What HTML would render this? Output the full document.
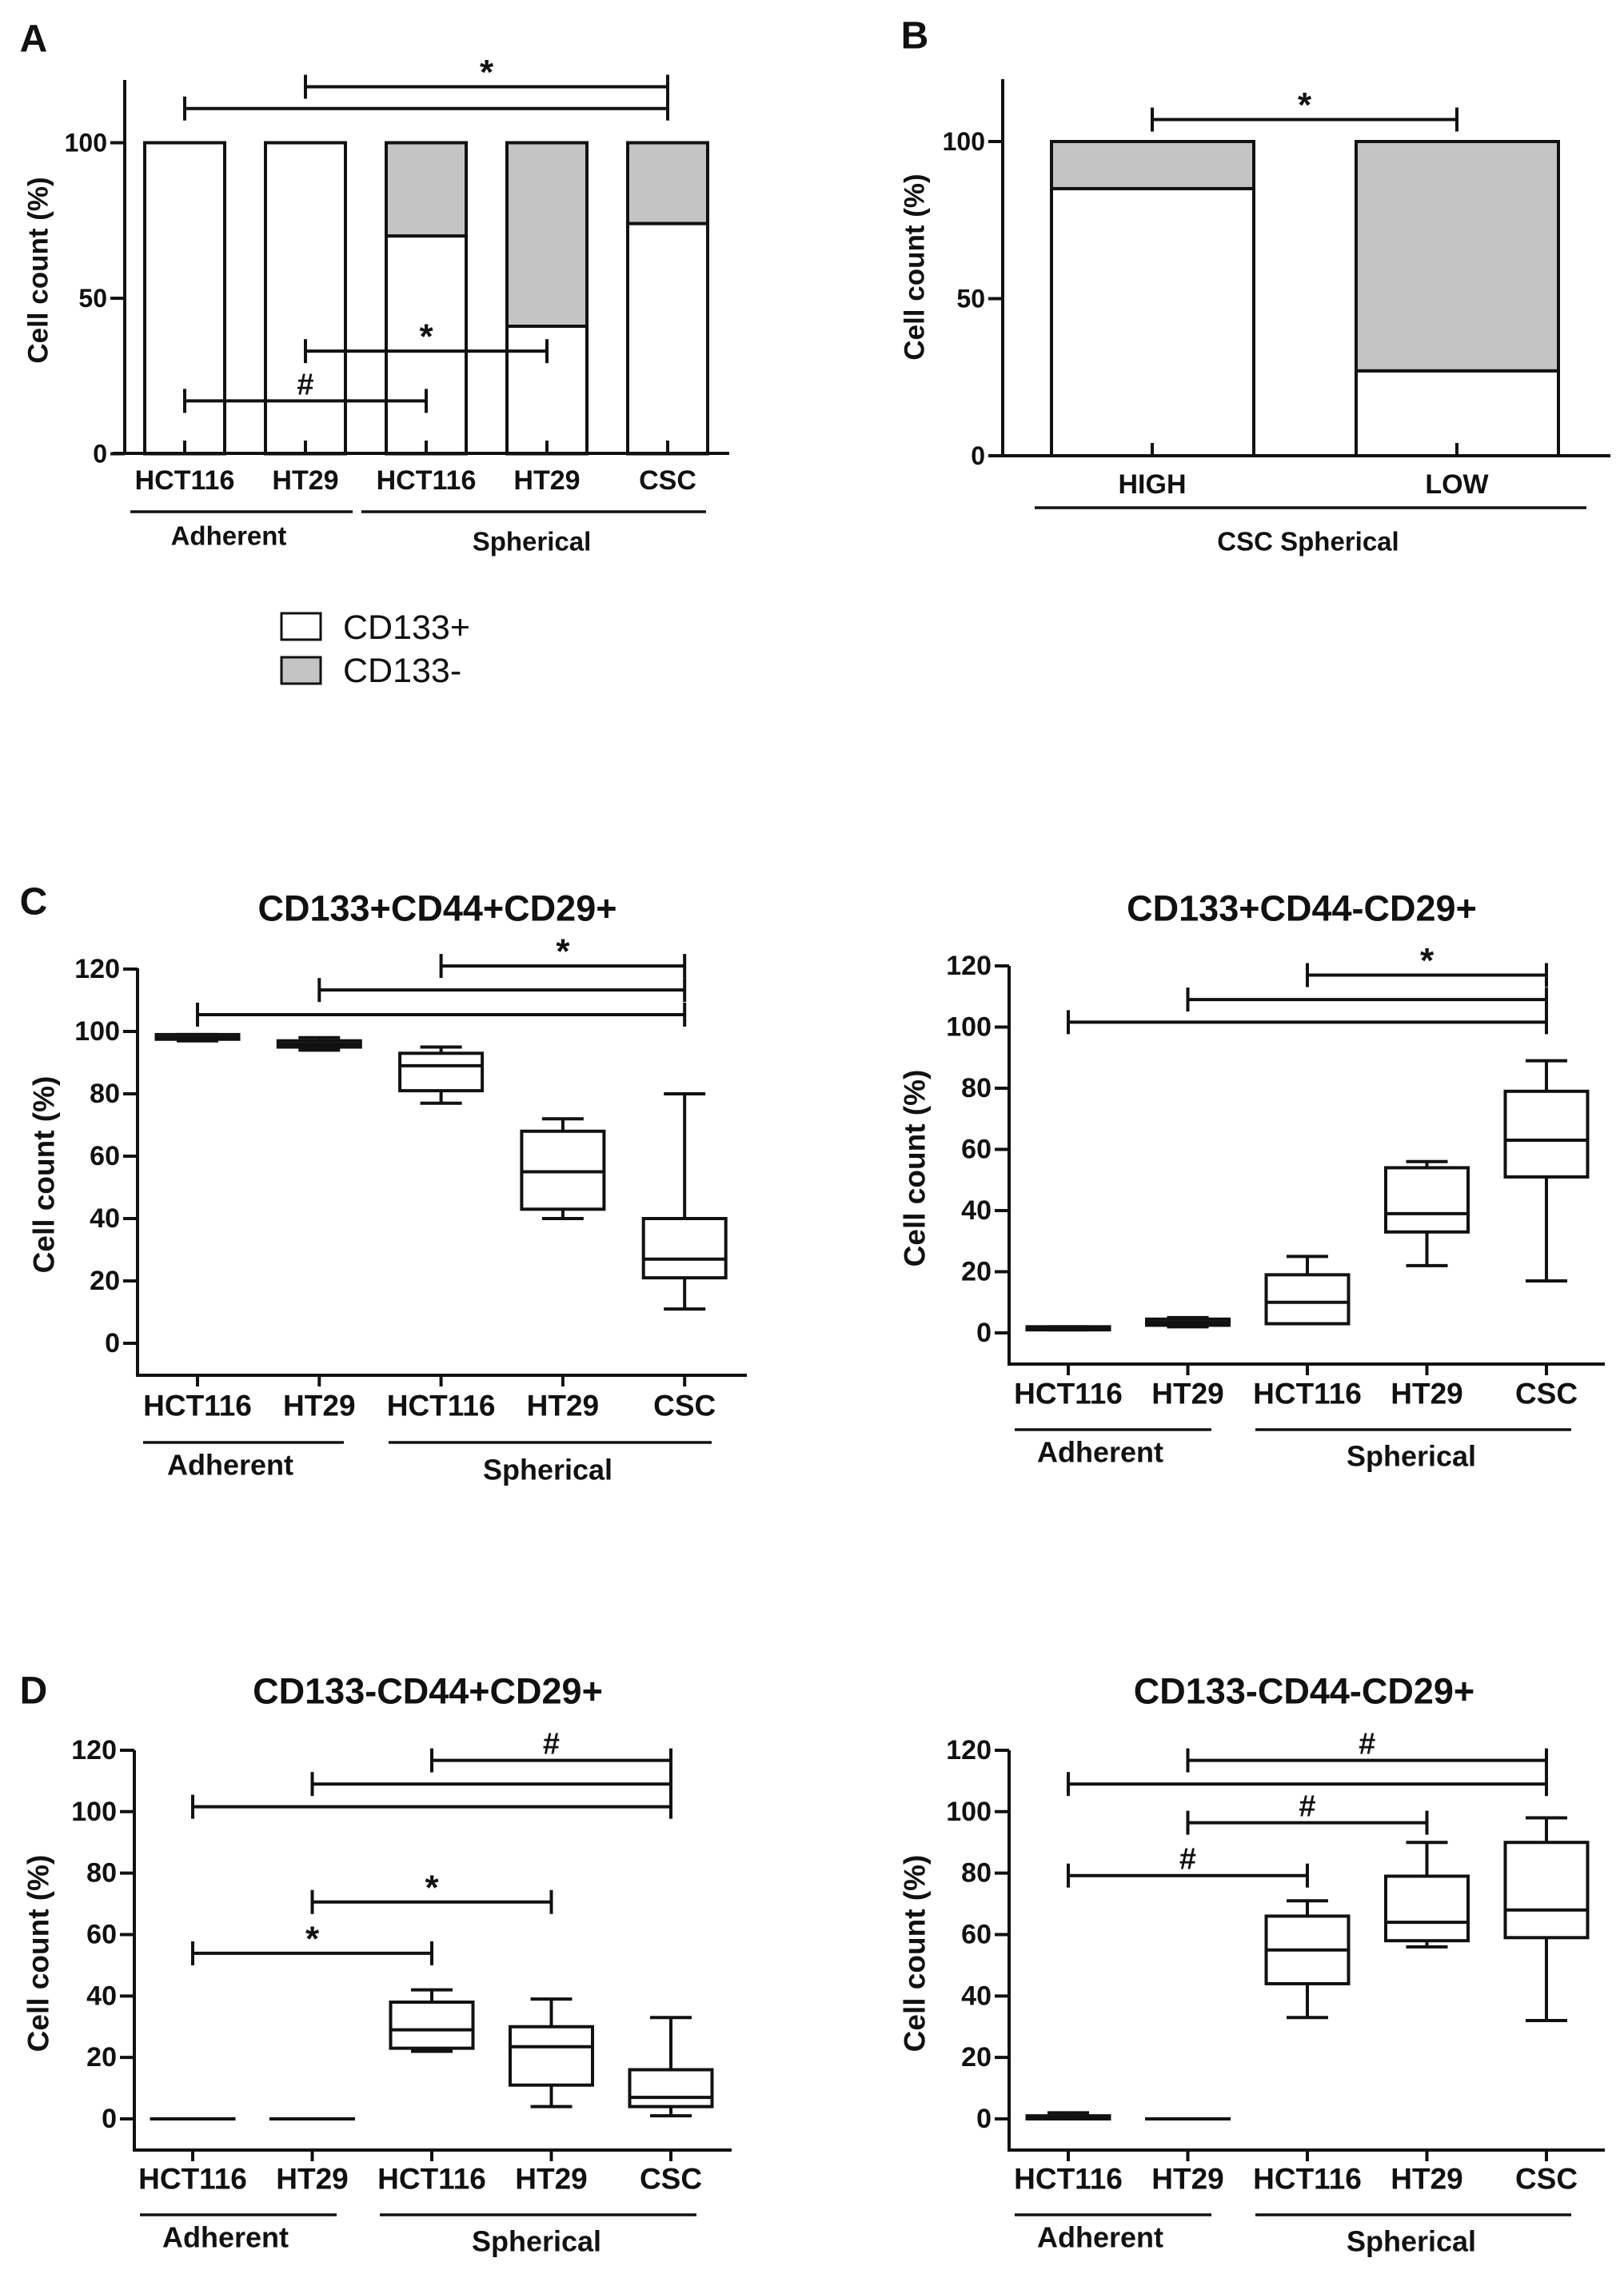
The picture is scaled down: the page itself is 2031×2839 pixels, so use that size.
<!DOCTYPE html>
<html><head><meta charset="utf-8">
<style>
html,body{margin:0;padding:0;background:#fff;}
svg{display:block;}
text{font-family:"Liberation Sans",Arial,sans-serif;font-weight:bold;fill:#111;}
</style></head>
<body>
<svg id="fig" width="2031" height="2839" viewBox="0 0 2031 2839" xmlns="http://www.w3.org/2000/svg"></svg>
<script>
// ---------- DATA ----------
const categories = ["HCT116","HT29","HCT116","HT29","CSC"];
const groupLabels = ["Adherent","Spherical"];
// Panel A: CD133+ share (rest CD133-)
const aPositive = [100,100,70,41,74];
const aYTicks = [0,50,100];
// Panel B
const bCategories = ["HIGH","LOW"];
const bPositive = [85,27];
const bYTicks = [0,50,100];
// Box tick labels
const boxYTicks = [0,20,40,60,80,100,120];
// C1: CD133+CD44+CD29+
const c1Min = [97,94,77,40,11];
const c1Q1  = [97.5,95,81,43,21];
const c1Med = [98,96,89,55,27];
const c1Q3  = [99,97,93,68,40];
const c1Max = [99,98,95,72,80];
// C2: CD133+CD44-CD29+
const c2Min = [1,2,3,22,17];
const c2Q1  = [1,2.5,3,33,51];
const c2Med = [1.5,3.5,10,39,63];
const c2Q3  = [2,4.5,19,54,79];
const c2Max = [2,5,25,56,89];
// D1: CD133-CD44+CD29+
const d1Min = [0,0,22,4,1];
const d1Q1  = [0,0,23,11,4];
const d1Med = [0,0,29,23.5,7];
const d1Q3  = [0,0,38,30,16];
const d1Max = [0,0,42,39,33];
// D2: CD133-CD44-CD29+
const d2Min = [0,0,33,56,32];
const d2Q1  = [0,0,44,58,59];
const d2Med = [0.5,0,55,64,68];
const d2Q3  = [1,0,66,79,90];
const d2Max = [2,0,71,90,98];
// significance brackets: from index, to index, height value, symbol
const aSigFrom = [1,0,1,0]; const aSigTo = [4,4,3,2]; const aSigY = [118,111,33,17]; const aSigLbl = ["*","","*","#"];
const bSigFrom = [0]; const bSigTo = [1]; const bSigY = [107]; const bSigLbl = ["*"];
const c1SigFrom = [2,1,0]; const c1SigTo = [4,4,4]; const c1SigY = [121,113.3,105.4]; const c1SigLbl = ["*","",""];
const c2SigFrom = [2,1,0]; const c2SigTo = [4,4,4]; const c2SigY = [117,109,101.6]; const c2SigLbl = ["*","",""];
const d1SigFrom = [2,1,0,1,0]; const d1SigTo = [4,4,4,3,2]; const d1SigY = [116.7,109,101.6,70.6,53.9]; const d1SigLbl = ["#","","","*","*"];
const d2SigFrom = [1,0,1,0]; const d2SigTo = [4,4,3,2]; const d2SigY = [116.7,109,96.4,79.2]; const d2SigLbl = ["#","","#","#"];

// ---------- DRAW HELPERS ----------
const NS = "http://www.w3.org/2000/svg";
const svg = document.getElementById('fig');
function mk(tag, attrs, name, parent){
  const el = document.createElementNS(NS, tag);
  for (const k in attrs) el.setAttribute(k, attrs[k]);
  
  
  (parent||svg).appendChild(el);
  return el;
}
function ln(x1,y1,x2,y2,name,w,p){ return mk('line',{x1:x1,y1:y1,x2:x2,y2:y2,stroke:'#111','stroke-width':w||4,'stroke-linecap':'butt'},name,p); }
function tx(x,y,s,size,name,anchor,p,weight){ const t=mk('text',{x:x,y:y,'font-size':size,'text-anchor':anchor||'middle','dominant-baseline':'central'},name,p); if(weight) t.style.fontWeight=weight; t.textContent=s; return t; }
function grp(name){ return mk('g',{},name); }

function axesCommon(g, o){
  ln(o.ax, o.axTop, o.ax, o.axBottom+2, 'y-axis-line', 4, g);
  ln(o.axLeft, o.axBottom, o.axRight, o.axBottom, 'x-axis-line', 4, g);
  o.yTicks.forEach(v=>{
    const y=o.y(v);
    ln(o.ax-18, y, o.ax, y, 'y-tick', 4, g);
    tx(o.ax-22, y, String(v), o.tickFont, 'y-tick-label', 'end', g);
  });
  o.cats.forEach((c,i)=>{
    const x=o.x(i);
    if(o.tickUp) ln(x, o.axBottom-16, x, o.axBottom, 'x-tick', 4, g);
    else ln(x, o.axBottom, x, o.axBottom+14, 'x-tick', 4, g);
    tx(x, o.catY, c, o.catFont, 'x-category-label', 'middle', g);
  });
  const yt = tx(0,0,'Cell count (%)', o.titleFont, 'y-axis-title','middle',g);
  yt.setAttribute('transform','translate('+o.ytX+','+o.ytY+') rotate(-90)');
}
function groups(g, o, lines){
  lines.forEach(L=>{
    ln(L[0], L[1], L[2], L[1], 'group-underline', 3.5, g);
    tx(L[3], L[4], L[5], o.grpFont, 'group-label', 'middle', g);
  });
}
function brackets(g, o, from, to, ys, lbls, half){
  for(let i=0;i<from.length;i++){
    const y=o.y(ys[i]), x1=o.x(from[i]), x2=o.x(to[i]);
    ln(x1,y,x2,y,'significance-bracket',4,g);
    ln(x1,y-half,x1,y+half,'bracket-end',4,g);
    ln(x2,y-half,x2,y+half,'bracket-end',4,g);
    if(lbls[i]){ tx((x1+x2)/2, y-(lbls[i]==='*'?18:20), lbls[i], lbls[i]==='*'?44:38, 'significance-marker','middle',g); }
  }
}
function boxes(g, o, mn, q1, md, q3, mx){
  const bw=103, cw=52;
  for(let i=0;i<mn.length;i++){
    const x=o.x(i);
    ln(x, o.y(mx[i]), x, o.y(q3[i]), 'whisker-upper', 4, g);
    ln(x, o.y(q1[i]), x, o.y(mn[i]), 'whisker-lower', 4, g);
    ln(x-cw/2, o.y(mx[i]), x+cw/2, o.y(mx[i]), 'whisker-cap-max', 4, g);
    ln(x-cw/2, o.y(mn[i]), x+cw/2, o.y(mn[i]), 'whisker-cap-min', 4, g);
    const yt=o.y(q3[i]), yb=o.y(q1[i]);
    mk('rect',{x:x-bw/2,y:yt,width:bw,height:Math.max(yb-yt,0.01),fill:'#fff',stroke:'#111','stroke-width':4},'box-'+i,g);
    ln(x-bw/2, o.y(md[i]), x+bw/2, o.y(md[i]), 'median-line', 4, g);
  }
}

// ---------- PANEL A ----------
(function(){
  const g=grp('panel-a');
  const o={ax:156,axTop:100,axBottom:567,axLeft:141,axRight:912,
    y:v=>567.5-3.89*v, x:i=>231+i*151, yTicks:aYTicks, cats:categories, tickUp:true,
    tickFont:32,catFont:34,titleFont:35,grpFont:33,catY:601,ytX:48,ytY:338};
  tx(42,49,'A',48,'panel-letter-a','middle',g);
  for(let i=0;i<aPositive.length;i++){
    const x=o.x(i)-50;
    mk('rect',{x:x,y:o.y(100),width:100,height:o.y(aPositive[i])-o.y(100),fill:'#c4c4c4',stroke:'#111','stroke-width':4},'bar-cd133-neg-'+i,g);
    mk('rect',{x:x,y:o.y(aPositive[i]),width:100,height:o.y(0)-o.y(aPositive[i]),fill:'#fff',stroke:'#111','stroke-width':4},'bar-cd133-pos-'+i,g);
  }
  axesCommon(g,o);
  groups(g,o,[[163,640,441,286,670,groupLabels[0]],[452,640,883,665,677,groupLabels[1]]]);
  brackets(g,o,aSigFrom,aSigTo,aSigY,aSigLbl,15);
  const lg=grp('legend');
  mk('rect',{x:352,y:767,width:49,height:33,fill:'#fff',stroke:'#111','stroke-width':3},'legend-swatch-cd133-pos',lg);
  tx(429,785,'CD133+',43,'legend-label-cd133-pos','start',lg,'normal');
  mk('rect',{x:352,y:822,width:49,height:33,fill:'#c4c4c4',stroke:'#111','stroke-width':3},'legend-swatch-cd133-neg',lg);
  tx(429,839,'CD133-',43,'legend-label-cd133-neg','start',lg,'normal');
})();

// ---------- PANEL B ----------
(function(){
  const g=grp('panel-b');
  const o={ax:1254,axTop:99,axBottom:570,axLeft:1238,axRight:2014,
    y:v=>570-3.93*v, x:i=>1441+i*381, yTicks:bYTicks, cats:bCategories, tickUp:true,
    tickFont:32,catFont:34,titleFont:35,grpFont:33,catY:606,ytX:1144,ytY:334};
  tx(1144,45,'B',48,'panel-letter-b','middle',g);
  for(let i=0;i<bPositive.length;i++){
    const x=o.x(i)-126;
    mk('rect',{x:x,y:o.y(100),width:253,height:o.y(bPositive[i])-o.y(100),fill:'#c4c4c4',stroke:'#111','stroke-width':4},'bar-cd133-neg-'+i,g);
    mk('rect',{x:x,y:o.y(bPositive[i]),width:253,height:o.y(0)-o.y(bPositive[i]),fill:'#fff',stroke:'#111','stroke-width':4},'bar-cd133-pos-'+i,g);
  }
  axesCommon(g,o);
  groups(g,o,[[1294,635,1984,1636,677,'CSC Spherical']]);
  brackets(g,o,bSigFrom,bSigTo,bSigY,bSigLbl,15);
})();

// ---------- BOX PANELS ----------
function boxPanel(name, letter, title, geo, mn,q1,md,q3,mx, sf,st,sy,sl){
  const g=grp(name);
  if(letter) tx(42, geo.letterY, letter, 48, 'panel-letter-'+letter.toLowerCase(), 'middle', g);
  tx(geo.titleX, geo.titleY, title, 45, 'chart-title', 'middle', g);
  const o={ax:geo.ax,axTop:geo.axTop,axBottom:geo.axBottom,axLeft:geo.ax-2,axRight:geo.axRight,
    y:v=>geo.y0-geo.unit*v, x:i=>geo.x0+i*geo.step, yTicks:boxYTicks, cats:categories, tickUp:false,
    tickFont:34,catFont:37,titleFont:37,grpFont:36,catY:geo.catY,ytX:geo.ytX,ytY:geo.ytY};
  axesCommon(g,o);
  groups(g,o,geo.groups);
  boxes(g,o,mn,q1,md,q3,mx);
  brackets(g,o,sf,st,sy,sl,15);
}
boxPanel('panel-c-left','C','CD133+CD44+CD29+',
  {letterY:1128,titleX:547,titleY:1136,ax:172,axTop:1211,axBottom:1720,axRight:934,y0:1680,unit:3.9,x0:247,step:152.3,catY:1758,ytX:55,ytY:1469,
   groups:[[179,1804,430,288,1832,groupLabels[0]],[486,1804,890,685,1838,groupLabels[1]]]},
  c1Min,c1Q1,c1Med,c1Q3,c1Max,c1SigFrom,c1SigTo,c1SigY,c1SigLbl);
boxPanel('panel-c-right',null,'CD133+CD44-CD29+',
  {titleX:1628,titleY:1136,ax:1262,axTop:1208,axBottom:1706,axRight:2007,y0:1667,unit:3.825,x0:1336,step:149.5,catY:1743,ytX:1144,ytY:1461,
   groups:[[1269,1788,1515,1376,1816,groupLabels[0]],[1570,1788,1965,1765,1821,groupLabels[1]]]},
  c2Min,c2Q1,c2Med,c2Q3,c2Max,c2SigFrom,c2SigTo,c2SigY,c2SigLbl);
boxPanel('panel-d-left','D','CD133-CD44+CD29+',
  {letterY:2115,titleX:535,titleY:2115,ax:168,axTop:2189,axBottom:2689,axRight:915,y0:2650,unit:3.842,x0:241,step:149.5,catY:2725,ytX:48,ytY:2443,
   groups:[[175,2770,421,282,2798,groupLabels[0]],[475,2770,871,671,2803,groupLabels[1]]]},
  d1Min,d1Q1,d1Med,d1Q3,d1Max,d1SigFrom,d1SigTo,d1SigY,d1SigLbl);
boxPanel('panel-d-right',null,'CD133-CD44-CD29+',
  {titleX:1631,titleY:2115,ax:1262,axTop:2189,axBottom:2689,axRight:2007,y0:2650,unit:3.842,x0:1336,step:149.5,catY:2725,ytX:1144,ytY:2443,
   groups:[[1269,2770,1515,1376,2798,groupLabels[0]],[1570,2770,1965,1765,2803,groupLabels[1]]]},
  d2Min,d2Q1,d2Med,d2Q3,d2Max,d2SigFrom,d2SigTo,d2SigY,d2SigLbl);
</script>
</body></html>
